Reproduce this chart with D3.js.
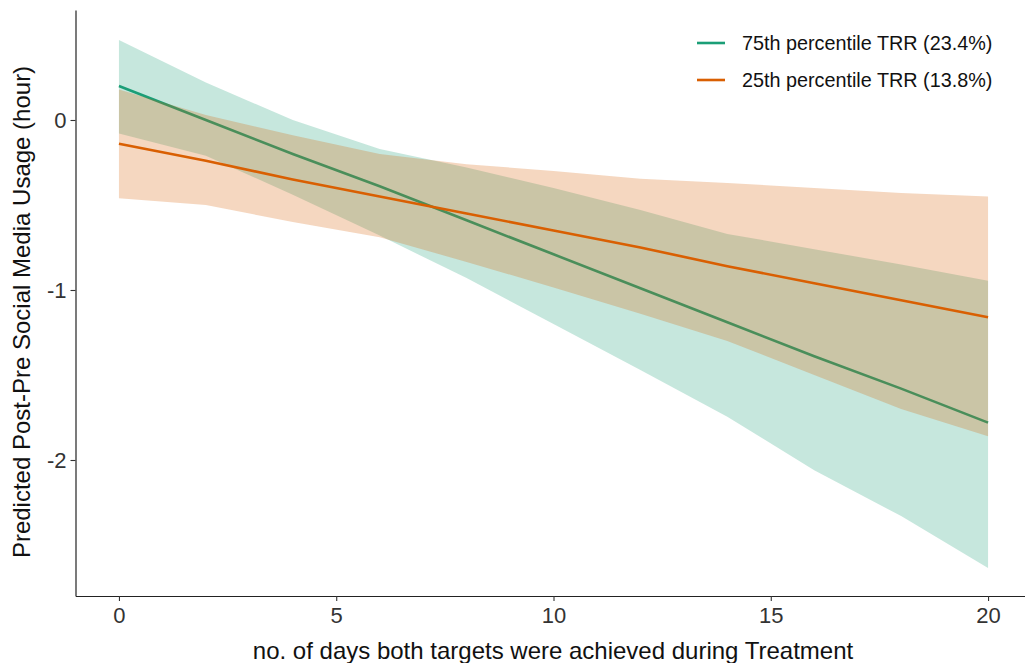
<!DOCTYPE html>
<html>
<head>
<meta charset="utf-8">
<script src="https://cdn.jsdelivr.net/npm/d3@7"></script>
<style>
  body { margin: 0; background: #fff; }
  svg { font-family: "Liberation Sans", Arial, sans-serif; }
</style>
</head>
<body>
<svg id="chart" width="1025" height="663"></svg>
<script>
// days on the x axis where predictions are shown
const days = [0, 2, 4, 6, 8, 10, 12, 14, 16, 18, 20];

// 75th percentile TRR: prediction and confidence band
const highFit   = [0.20, 0.00, -0.20, -0.39, -0.59, -0.79, -0.99, -1.19, -1.39, -1.58, -1.78];
const highUpper = [0.47, 0.22, 0.00, -0.17, -0.28, -0.40, -0.53, -0.67, -0.76, -0.85, -0.945];
const highLower = [-0.08, -0.21, -0.44, -0.68, -0.93, -1.20, -1.47, -1.745, -2.06, -2.33, -2.635];

// 25th percentile TRR: prediction and confidence band
const lowFit   = [-0.14, -0.24, -0.35, -0.45, -0.55, -0.65, -0.75, -0.86, -0.96, -1.06, -1.16];
const lowUpper = [0.18, 0.03, -0.09, -0.20, -0.26, -0.30, -0.345, -0.37, -0.40, -0.43, -0.45];
const lowLower = [-0.46, -0.50, -0.60, -0.69, -0.835, -0.985, -1.14, -1.30, -1.50, -1.70, -1.86];

const seriesNames = ["75th percentile TRR (23.4%)", "25th percentile TRR (13.8%)"];
const xTicks = [0, 5, 10, 15, 20];
const yTicks = [0, -1, -2];

const colors = ["#1b9e77", "#d95f02"];

const svg = d3.select("#chart");

// panel limits (ggplot style expansion)
const x = d3.scaleLinear().domain([-1, 21]).range([75.5, 1031.5]);
const y = d3.scaleLinear().domain([-2.8, 0.647]).range([596, 10]);

const series = [
    { name: seriesNames[0], fit: highFit, upper: highUpper, lower: highLower, color: colors[0] },
    { name: seriesNames[1], fit: lowFit, upper: lowUpper, lower: lowLower, color: colors[1] }
];

const area = d3.area()
    .x(d => x(d.day))
    .y0(d => y(d.lower))
    .y1(d => y(d.upper));

const line = d3.line()
    .x(d => x(d.day))
    .y(d => y(d.fit));

// ribbon + line per group, green first so orange sits on top
series.forEach(s => {
    const pts = days.map((d, i) => ({ day: d, fit: s.fit[i], upper: s.upper[i], lower: s.lower[i] }));
    svg.append("path")
        .datum(pts)
        .attr("d", area)
        .attr("fill", s.color)
        .attr("fill-opacity", 0.25);
    svg.append("path")
        .datum(pts)
        .attr("d", line)
        .attr("fill", "none")
        .attr("stroke", s.color)
        .attr("stroke-width", 2.6);
});

// plain hyphen minus like the original
const fmt = d => String(d);

// x axis
const xAxis = svg.append("g")
    .attr("transform", `translate(0, ${596})`)
    .call(d3.axisBottom(x).tickValues(xTicks).tickFormat(fmt).tickSize(5).tickPadding(6).tickSizeOuter(0));
xAxis.select(".domain").attr("stroke", "#222").attr("stroke-width", 1.2);
xAxis.selectAll(".tick line").attr("stroke", "#333").attr("stroke-width", 1.1);
xAxis.selectAll(".tick text")
    .attr("font-size", 22)
    .attr("font-family", "Liberation Sans, Arial, sans-serif")
    .attr("fill", "#333");

// y axis
const yAxis = svg.append("g")
    .attr("transform", `translate(${75.5}, 0)`)
    .call(d3.axisLeft(y).tickValues(yTicks).tickFormat(fmt).tickSize(5).tickPadding(4).tickSizeOuter(0));
yAxis.select(".domain").attr("stroke", "#222").attr("stroke-width", 1.2);
yAxis.selectAll(".tick line").attr("stroke", "#333").attr("stroke-width", 1.1);
yAxis.selectAll(".tick text")
    .attr("font-size", 22)
    .attr("font-family", "Liberation Sans, Arial, sans-serif")
    .attr("fill", "#333");

// axis titles
svg.append("text")
    .attr("x", 553)
    .attr("y", 659)
    .attr("text-anchor", "middle")
    .attr("font-size", 24)
    .attr("fill", "#111")
    .text("no. of days both targets were achieved during Treatment");

svg.append("text")
    .attr("transform", `translate(30, 312) rotate(-90)`)
    .attr("text-anchor", "middle")
    .attr("font-size", 24)
    .attr("fill", "#111")
    .text("Predicted Post-Pre Social Media Usage (hour)");

// legend
const legend = svg.append("g").attr("transform", "translate(697, 43)");
series.forEach((s, i) => {
    legend.append("line")
        .attr("x1", 0)
        .attr("x2", 28)
        .attr("y1", i * 37)
        .attr("y2", i * 37)
        .attr("stroke", s.color)
        .attr("stroke-width", 2.6);
    legend.append("text")
        .attr("x", 45)
        .attr("y", i * 37 + 7)
        .attr("font-size", 19.8)
        .attr("fill", "#111")
        .text(s.name);
});
</script>
</body>
</html>
